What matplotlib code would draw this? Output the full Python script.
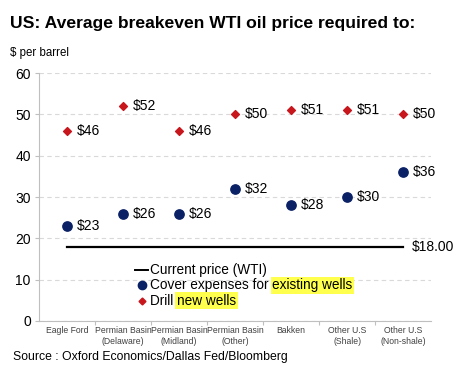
import matplotlib.pyplot as plt
from matplotlib.lines import Line2D

plt.rcParams['font.family'] = ['Liberation Sans', 'DejaVu Sans']

categories = ["Eagle Ford", "Permian Basin\n(Delaware)", "Permian Basin\n(Midland)",
              "Permian Basin\n(Other)", "Bakken", "Other U.S\n(Shale)", "Other U.S\n(Non-shale)"]
drill_new = [46, 52, 46, 50, 51, 51, 50]
cover_existing = [23, 26, 26, 32, 28, 30, 36]
current_price = 18.0

navy = "#0b2166"
red = "#c8161d"

fig = plt.figure(figsize=(4.61, 3.71), dpi=100)
ax = fig.add_axes([0.085, 0.135, 0.85, 0.668])

x = list(range(len(categories)))

# grid
ax.set_ylim(0, 60)
ax.set_xlim(-0.5, len(categories) - 0.5)
ax.set_yticks(range(0, 61, 10))
ax.yaxis.grid(True, linestyle=(0, (4, 3)), color="#d9d9d9", linewidth=0.8)
ax.set_axisbelow(True)

# current price line
ax.plot([x[0], x[-1]], [current_price, current_price], color="black", linewidth=1.6)
ax.annotate(f"${current_price:.2f}", xy=(x[-1], current_price), xytext=(6, 0),
            textcoords="offset points", va="center", ha="left", fontsize=10)

ax.scatter(x, drill_new, marker="D", s=16, color=red, zorder=3)
ax.scatter(x, cover_existing, marker="o", s=45, color=navy, zorder=3)

for i in x:
    ax.annotate(f"${drill_new[i]}", xy=(i, drill_new[i]), xytext=(7, 0),
                textcoords="offset points", va="center", fontsize=10)
    ax.annotate(f"${cover_existing[i]}", xy=(i, cover_existing[i]), xytext=(7, 0),
                textcoords="offset points", va="center", fontsize=10)

# axes styling
for s in ["top", "right"]:
    ax.spines[s].set_visible(False)
for s in ["left", "bottom"]:
    ax.spines[s].set_color("#bfbfbf")
ax.tick_params(axis="y", length=3, color="#bfbfbf", labelsize=10, pad=3)
ax.set_xticks([i + 0.5 for i in x[:-1]], minor=False)
ax.set_xticklabels([])
ax.tick_params(axis="x", length=3, color="#bfbfbf")
ax.set_xticks(x, minor=True)
ax.set_xticklabels(categories, minor=True, fontsize=6.2, color="#404040")
ax.tick_params(axis="x", which="minor", length=0, pad=4)

# legend, built by hand so words can be highlighted
lx, ly = 0.283, 0.205
step = 0.062
fs = 9.8
ax.add_line(Line2D([lx - 0.038, lx - 0.005], [ly, ly], transform=ax.transAxes,
                   color="black", linewidth=1.4))
ax.text(lx, ly, "Current price (WTI)", transform=ax.transAxes, va="center", fontsize=fs)
ax.add_line(Line2D([lx - 0.02], [ly - step], transform=ax.transAxes, marker="o",
                   markersize=6, color=navy, linestyle="none"))
t1 = ax.text(lx, ly - step, "Cover expenses for ", transform=ax.transAxes,
             va="center", fontsize=fs)
ax.annotate("existing wells", xy=(1, 0.5), xycoords=t1, va="center", ha="left",
            fontsize=fs,
            bbox=dict(facecolor="#ffff4d", edgecolor="none", pad=1.2))
ax.add_line(Line2D([lx - 0.02], [ly - 2 * step], transform=ax.transAxes, marker="D",
                   markersize=3.5, color=red, linestyle="none"))
t2 = ax.text(lx, ly - 2 * step, "Drill ", transform=ax.transAxes,
             va="center", fontsize=fs)
ax.annotate("new wells", xy=(1, 0.5), xycoords=t2, va="center", ha="left",
            fontsize=fs,
            bbox=dict(facecolor="#ffff4d", edgecolor="none", pad=1.2))

fig.text(0.022, 0.937, "US: Average breakeven WTI oil price required to:",
         fontsize=12.6, fontweight="bold", va="center")
fig.text(0.022, 0.858, "$ per barrel", fontsize=8.3, va="center")
fig.text(0.028, 0.038, "Source : Oxford Economics/Dallas Fed/Bloomberg",
         fontsize=8.8, va="center")

fig.savefig("out.png", dpi=100)
